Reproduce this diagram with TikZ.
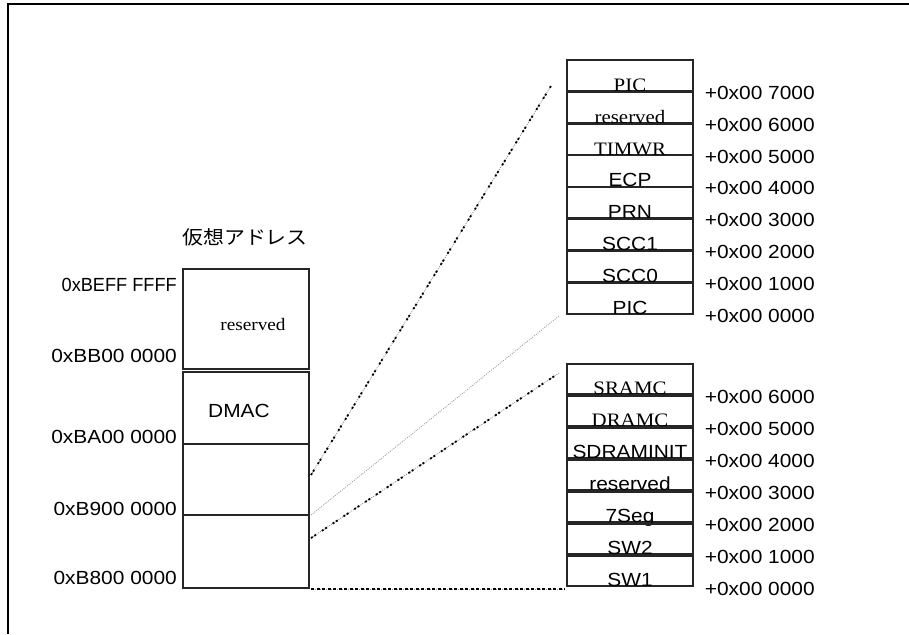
\documentclass[tikz,border=0pt]{standalone}
\usepackage{fontspec}
\newfontfamily\sanf{Liberation Sans}[FakeStretch=1.1]
\newfontfamily\serf{Liberation Serif}[FakeStretch=1.1]
\newfontfamily\jpf{Noto Sans CJK JP}[FakeStretch=1.1]
\begin{document}
\begin{tikzpicture}[x=1pt,y=-1pt,
  cell/.style={draw=black!85, line width=1.4pt, minimum width=126pt, inner sep=0pt},
  sl/.style={font=\sanf\fontsize{19}{22}\selectfont, inner sep=0pt},
  dotbase/.style={draw=black!45, line width=0.8pt, dash pattern=on 1pt off 1.2pt},
  darkdot/.style={draw=black, line width=1.8pt, dash pattern=on 2pt off 2pt on 2pt off 7pt},
  lightdot/.style={draw=black!40, line width=0.8pt, dash pattern=on 1pt off 1.2pt},
  hdash/.style={draw=black, line width=2pt, dash pattern=on 3pt off 2.5pt}]
\useasboundingbox (0,0) rectangle (909,634);
\draw[line width=1.5pt] (8,634) -- (8,4) -- (909,4);

% top right column
\foreach \i/\t/\f/\a in {0/PIC/\serf/7000, 1/reserved/\serf/6000, 2/TIMWR/\serf/5000, 3/ECP/\sanf/4000, 4/PRN/\sanf/3000, 5/SCC1/\sanf/2000, 6/SCC0/\sanf/1000, 7/PIC/\sanf/0000} {
  \pgfmathsetmacro\cy{75.25+31.9*\i}
  \node[cell, minimum height=30.5pt] (a\i) at (630,\cy) {};
  \node[font=\f\fontsize{19}{22}\selectfont, anchor=base, inner sep=0pt] (at\i) at (a\i.south) {\t};
  \node[sl, anchor=west] (aa\i) at ([xshift=11pt,yshift=-1.5pt]a\i.south east) {+0x00 \a};
}
% bottom right column
\foreach \i/\t/\f/\a in {0/SRAMC/\serf/6000, 1/DRAMC/\serf/5000, 2/SDRAMINIT/\sanf/4000, 3/reserved/\sanf/3000, 4/7Seg/\sanf/2000, 5/SW2/\sanf/1000, 6/SW1/\sanf/0000} {
  \pgfmathsetmacro\cy{379+32*\i}
  \node[cell, minimum height=30pt] (b\i) at (630,\cy) {};
  \node[font=\f\fontsize{19}{22}\selectfont, anchor=base, inner sep=0pt] (bt\i) at (b\i.south) {\t};
  \node[sl, anchor=west] (ba\i) at ([xshift=11pt,yshift=-2pt]b\i.south east) {+0x00 \a};
}

% left column
\node[cell, minimum height=100pt] (l0) at (246,319) {};
\node[cell, minimum height=72pt] (l1) at (246,408) {};
\node[cell, minimum height=71pt] (l2) at (246,479.5) {};
\node[cell, minimum height=73pt] (l3) at (246,551.5) {};
\node[font=\serf\fontsize{17.5}{20}\selectfont, inner sep=0pt] (lt0) at (253,325) {reserved};
\node[sl] (lt1) at (239,411) {DMAC};
\node[font=\jpf\fontsize{19}{22}\selectfont, inner sep=0pt] (title) at (245,237) {仮想アドレス};

\node[sl, anchor=east] (la0) at (177,285) {\scalebox{0.87}[1]{0xBEFF FFFF}};
\node[sl, anchor=east] (la1) at (177,356) {0xBB00 0000};
\node[sl, anchor=east] (la2) at (177,437) {0xBA00 0000};
\node[sl, anchor=east] (la3) at (177,509) {0xB900 0000};
\node[sl, anchor=east] (la4) at (177,578) {0xB800 0000};

% connectors
\coordinate (s1) at (311,475);
\coordinate (e1) at (551,86);
\coordinate (s2) at (311,515);
\coordinate (e2) at (559,316);
\coordinate (s3) at (311,538);
\coordinate (e3) at (559,373);
\coordinate (s4) at (311,589);
\coordinate (e4) at (565,589);
\draw[dotbase] (s1) -- (e1);
\draw[darkdot] (s1) -- (e1);
\draw[lightdot] (s2) -- (e2);
\draw[dotbase] (s3) -- (e3);
\draw[darkdot] (s3) -- (e3);
\draw[dotbase] (s4) -- (e4);
\draw[hdash] (s4) -- (e4);
\end{tikzpicture}
\end{document}
